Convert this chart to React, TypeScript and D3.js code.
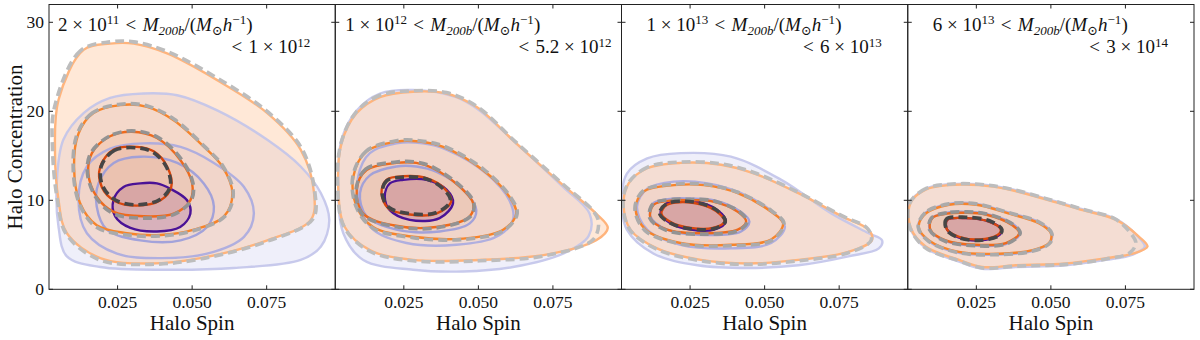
import React from "react";
import * as d3 from "d3";

type Pt = [number, number];

// mass bins (label text)
const lowMant = ["2", "1", "1", "6"];
const lowExp = ["11", "12", "13", "13"];
const highMant = ["1", "5.2", "6", "3"];
const highExp = ["12", "12", "13", "14"];

const xTicks = [0.025, 0.05, 0.075];
const yTicks = [0, 10, 20, 30];

// ---- panel 1 contours (levels outer -> inner), [spin, concentration]
const blueP1: Pt[][] = [
  [[0.0337, 22.0], [0.0225, 21.5], [0.0136, 19.8], [0.0068, 16.8], [0.0046, 11.9], [0.0052, 7.0], [0.008, 3.7], [0.0192, 2.5], [0.0416, 2.2], [0.064, 2.4], [0.0864, 3.3], [0.0932, 4.8], [0.096, 7.8], [0.0932, 10.8], [0.0864, 13.8], [0.0752, 16.8], [0.0584, 20.1], [0.045, 21.8]],
  [[0.0337, 16.4], [0.0225, 15.8], [0.0147, 13.8], [0.0119, 10.0], [0.0147, 6.3], [0.0248, 4.0], [0.0394, 3.5], [0.055, 4.0], [0.0674, 5.9], [0.0707, 8.5], [0.0674, 11.5], [0.0573, 14.2], [0.0461, 16.0]],
  [[0.0326, 14.9], [0.0237, 14.2], [0.0186, 11.9], [0.018, 9.3], [0.0214, 6.7], [0.0326, 5.5], [0.0461, 5.5], [0.055, 7.0], [0.0573, 9.3], [0.0539, 11.9], [0.045, 14.2]],
  [[0.0326, 11.9], [0.027, 11.5], [0.0236, 10.0], [0.0242, 8.2], [0.0293, 6.9], [0.0382, 6.5], [0.046, 7.0], [0.0494, 8.5], [0.0483, 10.0], [0.0427, 11.3], [0.0382, 11.9]],
];
const orangeP1: Pt[][] = [
  [[0.0225, 27.6], [0.0136, 26.9], [0.0052, 21.3], [0.004, 15.7], [0.0052, 10.0], [0.008, 6.3], [0.0192, 3.5], [0.036, 2.9], [0.0528, 3.5], [0.0752, 5.5], [0.0898, 7.8], [0.0909, 10.8], [0.0864, 15.7], [0.0752, 19.8], [0.0584, 23.5], [0.0416, 26.5], [0.0304, 27.6]],
  [[0.0259, 20.7], [0.0169, 19.8], [0.0119, 17.5], [0.0104, 13.8], [0.0124, 9.7], [0.018, 7.2], [0.0281, 6.3], [0.0394, 6.1], [0.0506, 6.7], [0.0607, 8.2], [0.0635, 10.8], [0.0601, 13.8], [0.054, 16.0], [0.0438, 19.0], [0.0349, 20.5]],
  [[0.0298, 17.7], [0.0225, 17.2], [0.0164, 15.3], [0.0152, 13.0], [0.018, 10.4], [0.0237, 8.7], [0.0337, 8.2], [0.0438, 8.5], [0.0494, 10.0], [0.05, 11.9], [0.0461, 14.5], [0.0382, 17.0]],
  [[0.0315, 16.0], [0.0237, 15.7], [0.0192, 13.8], [0.0197, 11.5], [0.0242, 9.9], [0.0315, 9.4], [0.0394, 10.0], [0.043, 11.5], [0.0416, 13.8], [0.0371, 15.5]],
];
const grayP1: Pt[][] = [
  [[0.0225, 27.8], [0.0125, 26.8], [0.0038, 20.4], [0.0032, 15.7], [0.0047, 10.3], [0.0078, 6.2], [0.019, 3.3], [0.036, 2.8], [0.0528, 3.4], [0.0752, 5.4], [0.0905, 7.9], [0.0912, 10.8], [0.0868, 15.8], [0.0755, 19.9], [0.0586, 23.7], [0.0418, 26.7], [0.0304, 27.8]],
  [[0.0259, 20.8], [0.0165, 19.8], [0.0115, 17.5], [0.0101, 13.8], [0.0121, 9.7], [0.0178, 7.0], [0.0281, 6.1], [0.0394, 6.0], [0.0506, 6.6], [0.061, 8.2], [0.0638, 10.8], [0.0604, 13.8], [0.0543, 16.0], [0.044, 19.1], [0.035, 20.6]],
  [[0.0298, 17.8], [0.0222, 17.2], [0.016, 15.3], [0.0149, 13.0], [0.0178, 10.3], [0.0236, 8.5], [0.0337, 8.0], [0.0438, 8.4], [0.0497, 10.0], [0.0503, 11.9], [0.0464, 14.6], [0.0384, 17.1]],
  [[0.0315, 15.9], [0.0239, 15.6], [0.0195, 13.8], [0.02, 11.6], [0.0244, 10.0], [0.0315, 9.5], [0.0392, 10.1], [0.0427, 11.6], [0.0413, 13.8], [0.0369, 15.4]],
];

// ---- panel 2
const blueP2: Pt[][] = [
  [[0.0281, 22.4], [0.017, 22.0], [0.0092, 20.1], [0.0041, 16.8], [0.003, 11.9], [0.0047, 6.3], [0.0114, 3.3], [0.0281, 2.2], [0.0449, 2.0], [0.0616, 2.5], [0.0784, 4.0], [0.087, 6.0], [0.0873, 8.5], [0.0784, 11.5], [0.0627, 16.4], [0.0504, 20.1], [0.0426, 21.6]],
  [[0.0225, 16.4], [0.0136, 15.3], [0.0097, 12.7], [0.0103, 9.3], [0.0147, 6.7], [0.0259, 5.2], [0.0426, 5.0], [0.056, 5.9], [0.0616, 7.8], [0.0604, 10.0], [0.0527, 13.0], [0.0393, 15.7], [0.0314, 16.4]],
  [[0.0225, 13.8], [0.0136, 12.8], [0.0103, 10.8], [0.0125, 8.2], [0.0225, 6.7], [0.037, 6.5], [0.0471, 7.4], [0.0493, 8.9], [0.0449, 11.2], [0.036, 13.2], [0.0292, 13.8]],
  [[0.0248, 12.3], [0.0203, 11.9], [0.0186, 10.4], [0.0203, 8.9], [0.027, 7.8], [0.037, 8.0], [0.0415, 9.7], [0.0393, 11.2], [0.0326, 12.3]],
];
const orangeP2: Pt[][] = [
  [[0.0281, 22.2], [0.017, 21.6], [0.0092, 19.8], [0.0041, 16.4], [0.003, 11.5], [0.0052, 7.0], [0.0136, 4.4], [0.0281, 3.3], [0.0504, 3.3], [0.0728, 3.9], [0.0895, 5.5], [0.0934, 6.9], [0.0895, 8.5], [0.0784, 11.7], [0.0627, 16.4], [0.0493, 20.5], [0.0393, 22.0]],
  [[0.0225, 16.6], [0.0125, 15.5], [0.0081, 12.7], [0.0092, 9.3], [0.0147, 7.0], [0.0281, 5.9], [0.0449, 5.7], [0.0583, 6.7], [0.0627, 8.5], [0.0604, 10.4], [0.0515, 13.4], [0.0382, 16.0], [0.0303, 16.6]],
  [[0.0225, 14.2], [0.0125, 13.4], [0.0092, 11.2], [0.0114, 8.5], [0.0214, 7.2], [0.0359, 7.0], [0.0471, 8.2], [0.0482, 9.7], [0.0438, 11.5], [0.0348, 13.6], [0.0292, 14.2]],
  [[0.0248, 12.7], [0.0192, 12.3], [0.0175, 10.8], [0.0198, 9.1], [0.027, 8.4], [0.0359, 8.5], [0.0409, 9.9], [0.0387, 11.3], [0.0326, 12.5]],
];
const grayP2: Pt[][] = [
  [[0.0281, 22.3], [0.017, 21.8], [0.009, 19.9], [0.0039, 16.4], [0.0028, 11.5], [0.005, 7.0], [0.0134, 4.3], [0.0281, 3.2], [0.0504, 3.2], [0.0728, 3.8], [0.0885, 5.6], [0.0903, 7.6], [0.0885, 8.8], [0.0784, 11.8], [0.0627, 16.5], [0.0493, 20.6], [0.0393, 22.1]],
  [[0.0225, 16.7], [0.0123, 15.5], [0.0079, 12.7], [0.009, 9.3], [0.0145, 6.9], [0.0281, 5.8], [0.0449, 5.6], [0.0585, 6.6], [0.063, 8.5], [0.0607, 10.4], [0.0517, 13.5], [0.0383, 16.1], [0.0303, 16.7]],
  [[0.0225, 14.3], [0.0122, 13.5], [0.009, 11.2], [0.0112, 8.4], [0.0214, 7.1], [0.0359, 6.9], [0.0474, 8.2], [0.0485, 9.7], [0.044, 11.6], [0.0349, 13.7], [0.0292, 14.3]],
  [[0.0248, 12.6], [0.0193, 12.2], [0.0177, 10.8], [0.02, 9.2], [0.027, 8.5], [0.0357, 8.6], [0.0406, 9.9], [0.0385, 11.2], [0.0326, 12.4]],
];

// ---- panel 3
const blueP3: Pt[][] = [
  [[0.0218, 15.3], [0.0106, 14.7], [0.0038, 13.0], [0.0021, 10.0], [0.0038, 6.7], [0.0128, 4.0], [0.0275, 2.7], [0.0444, 2.4], [0.0613, 2.7], [0.0781, 3.7], [0.0883, 4.6], [0.0894, 5.5], [0.0849, 6.3], [0.0725, 8.5], [0.0556, 12.3], [0.0387, 14.9]],
  [[0.0196, 12.1], [0.0106, 11.3], [0.0072, 9.3], [0.0106, 6.7], [0.0218, 5.0], [0.0387, 4.6], [0.0522, 5.2], [0.0568, 7.0], [0.0534, 8.5], [0.0421, 10.8], [0.0309, 11.9]],
  [[0.0196, 10.2], [0.0128, 9.7], [0.0117, 8.2], [0.0173, 6.7], [0.0297, 6.1], [0.0421, 6.5], [0.0449, 7.6], [0.0421, 8.7], [0.0331, 10.0], [0.025, 10.2]],
  [[0.0173, 9.7], [0.0151, 8.5], [0.0185, 7.4], [0.0252, 6.7], [0.0331, 6.7], [0.037, 7.6], [0.0342, 8.9], [0.0263, 9.9]],
];
const orangeP3: Pt[][] = [
  [[0.0218, 14.2], [0.0106, 13.6], [0.0044, 11.9], [0.0027, 9.7], [0.005, 6.7], [0.0139, 4.6], [0.0286, 3.3], [0.0444, 2.9], [0.0613, 3.3], [0.0781, 4.2], [0.086, 5.5], [0.0849, 6.7], [0.0759, 8.2], [0.0613, 10.8], [0.0466, 13.0], [0.0354, 14.0]],
  [[0.0196, 11.7], [0.0095, 11.0], [0.0067, 9.1], [0.0101, 6.7], [0.0218, 5.2], [0.0387, 5.0], [0.0522, 5.6], [0.0562, 7.4], [0.0522, 8.7], [0.041, 10.8], [0.0297, 11.7]],
  [[0.0196, 10.0], [0.0128, 9.5], [0.0117, 8.0], [0.0173, 6.7], [0.0297, 6.3], [0.041, 6.7], [0.0438, 7.6], [0.041, 8.7], [0.032, 9.9], [0.025, 10.0]],
  [[0.0173, 9.5], [0.0154, 8.5], [0.0188, 7.5], [0.0252, 6.9], [0.0326, 6.9], [0.0365, 7.6], [0.0337, 8.8], [0.0263, 9.7]],
];
const grayP3: Pt[][] = [
  [[0.0218, 14.3], [0.0106, 13.7], [0.0042, 11.9], [0.0025, 9.7], [0.0048, 6.7], [0.0139, 4.5], [0.0286, 3.2], [0.0444, 2.8], [0.0613, 3.2], [0.0781, 4.1], [0.0857, 5.5], [0.0846, 6.8], [0.0757, 8.3], [0.0612, 10.9], [0.0466, 13.1], [0.0354, 14.1]],
  [[0.0196, 11.8], [0.0094, 11.1], [0.0065, 9.1], [0.0099, 6.6], [0.0218, 5.1], [0.0387, 4.9], [0.0524, 5.5], [0.0565, 7.4], [0.0524, 8.8], [0.041, 10.9], [0.0297, 11.8]],
  [[0.0196, 10.1], [0.0126, 9.6], [0.0115, 8.0], [0.0172, 6.6], [0.0297, 6.2], [0.0412, 6.6], [0.0441, 7.6], [0.0412, 8.8], [0.032, 10.0], [0.025, 10.1]],
  [[0.0171, 9.6], [0.0148, 8.5], [0.0186, 7.4], [0.0252, 6.8], [0.0328, 6.8], [0.0368, 7.6], [0.0339, 8.9], [0.0263, 9.8]],
];

// ---- panel 4
const blueP4: Pt[][] = [
  [[0.0158, 11.8], [0.008, 11.3], [0.0027, 9.7], [0.0027, 7.0], [0.0078, 4.7], [0.0192, 3.1], [0.027, 2.3], [0.0382, 2.5], [0.055, 2.7], [0.0685, 3.3], [0.0775, 3.9], [0.0815, 4.8], [0.079, 6.0], [0.0719, 7.9], [0.0606, 9.0], [0.0494, 10.1], [0.036, 11.3], [0.0259, 11.8]],
  [[0.0158, 9.6], [0.0079, 8.6], [0.0055, 7.0], [0.009, 5.4], [0.0192, 4.1], [0.0326, 3.9], [0.0438, 4.3], [0.0496, 5.2], [0.0503, 6.3], [0.0463, 7.5], [0.036, 8.6], [0.025, 9.6]],
  [[0.0214, 8.7], [0.0152, 8.6], [0.01, 8.0], [0.0094, 6.7], [0.0146, 5.4], [0.0248, 4.9], [0.0351, 5.1], [0.0397, 6.3], [0.0374, 7.3], [0.0281, 8.5]],
  [[0.0214, 8.0], [0.0152, 7.8], [0.0152, 6.7], [0.0192, 5.8], [0.0259, 5.5], [0.0323, 6.0], [0.0335, 6.7], [0.0293, 7.6]],
];
const orangeP4: Pt[][] = [
  [[0.0158, 11.7], [0.008, 11.2], [0.0029, 9.7], [0.0029, 7.0], [0.008, 4.8], [0.0192, 3.3], [0.027, 2.5], [0.0382, 2.7], [0.055, 2.9], [0.0685, 3.5], [0.0775, 4.0], [0.0824, 4.8], [0.0796, 5.9], [0.0719, 7.8], [0.0606, 8.9], [0.0494, 10.0], [0.036, 11.2], [0.0259, 11.7]],
  [[0.0158, 9.5], [0.008, 8.5], [0.0057, 7.0], [0.0091, 5.5], [0.0192, 4.2], [0.0326, 4.0], [0.0438, 4.4], [0.0494, 5.2], [0.05, 6.3], [0.0461, 7.4], [0.036, 8.5], [0.025, 9.5]],
  [[0.0214, 8.6], [0.0152, 8.5], [0.0102, 8.0], [0.0096, 6.7], [0.0147, 5.5], [0.0248, 5.0], [0.0349, 5.2], [0.0394, 6.3], [0.0371, 7.2], [0.0281, 8.4]],
  [[0.0214, 8.0], [0.0152, 7.8], [0.0152, 6.7], [0.0192, 5.9], [0.0259, 5.6], [0.0321, 6.1], [0.0332, 6.7], [0.0293, 7.6]],
];
const grayP4: Pt[][] = [
  [[0.0158, 11.8], [0.008, 11.3], [0.0027, 9.7], [0.0027, 7.0], [0.0078, 4.7], [0.0192, 3.2], [0.027, 2.4], [0.0382, 2.6], [0.055, 2.8], [0.0685, 3.4], [0.0765, 4.1], [0.0785, 5.2], [0.077, 6.2], [0.0716, 7.9], [0.0606, 9.0], [0.0494, 10.1], [0.036, 11.3], [0.0259, 11.8]],
  [[0.0158, 9.6], [0.0078, 8.6], [0.0055, 7.0], [0.009, 5.4], [0.0192, 4.1], [0.0326, 3.9], [0.044, 4.3], [0.0497, 5.2], [0.0503, 6.3], [0.0463, 7.5], [0.036, 8.6], [0.025, 9.6]],
  [[0.0214, 8.7], [0.0151, 8.6], [0.0099, 8.0], [0.0093, 6.7], [0.0146, 5.4], [0.0248, 4.9], [0.0351, 5.1], [0.0397, 6.3], [0.0373, 7.3], [0.0281, 8.5]],
  [[0.0214, 8.1], [0.015, 7.9], [0.015, 6.7], [0.0191, 5.8], [0.0259, 5.5], [0.0324, 6.0], [0.0336, 6.7], [0.0294, 7.7]],
];

const blueSets = [blueP1, blueP2, blueP3, blueP4];
const orangeSets = [orangeP1, orangeP2, orangeP3, orangeP4];
const graySets = [grayP1, grayP2, grayP3, grayP4];

// styles
const blueStroke = ["#c2c4ea", "#a8aae0", "#9a9cda", "#4a1296"];
const blueFill = ["#8086d6", "#8086d6", "#8086d6", "#5a1aa0"];
const blueAlpha = [0.13, 0.03, 0.04, 0.24];
const orangeStroke = ["#ffb47c", "#f7842a", "#ee6a1c", "#d8460c"];
const orangeAlpha = [0.3, 0.05, 0.09, 0.05];
const grayStroke = ["#bdbdbd", "#ababab", "#939393", "#464646"];
const font = "Liberation Serif, DejaVu Serif, serif";
const spX = "\u2005"; // around ×
const spLt = "\u2004"; // around <

const W = 1200;
const H = 340;
const left = 49;
const pw = 286.25;
const top = 4.5;
const bottom = 289.3;
const labelLeft = [9, 10, 25, 25];
const labelRight = [25, 10, 26, 26];

function MassLabel({ i, x0, x1 }: { i: number; x0: number; x1: number }) {
  const s = 13;
  return (
    <g fontFamily={font} fontSize={19} fill="#111">
      <text x={x0} y={31}>
        <tspan>{lowMant[i] + spX + "×" + spX + "10"}</tspan>
        <tspan dy={-7} fontSize={s}>{lowExp[i]}</tspan>
        <tspan dy={7}>{spLt + "<" + spLt}</tspan>
        <tspan fontStyle="italic">M</tspan>
        <tspan dy={4} fontSize={s} fontStyle="italic">200b</tspan>
        <tspan dy={-4}>/(</tspan>
        <tspan fontStyle="italic">M</tspan>
        <tspan dy={4} fontSize={s}>⊙</tspan>
        <tspan dy={-4} fontStyle="italic">h</tspan>
        <tspan dy={-7} fontSize={s}>−1</tspan>
        <tspan dy={7}>)</tspan>
      </text>
      <text x={x1} y={53} textAnchor="end">
        <tspan>{"<" + spLt + highMant[i] + spX + "×" + spX + "10"}</tspan>
        <tspan dy={-6} fontSize={s}>{highExp[i]}</tspan>
      </text>
    </g>
  );
}

function Panel({ i }: { i: number }) {
  const x0 = left + i * pw;
  const x = d3.scaleLinear().domain([0.002, 0.098]).range([x0, x0 + pw]);
  const y = d3.scaleLinear().domain([0, 32]).range([bottom, top]);
  const line = d3
    .line<Pt>()
    .x((d) => x(d[0]))
    .y((d) => y(d[1]))
    .curve(d3.curveCatmullRomClosed.alpha(0.5));
  const fmt = d3.format(".3f");
  const clipId = `clip${i}`;

  return (
    <g>
      <defs>
        <clipPath id={clipId}>
          <rect x={x0} y={top} width={pw} height={bottom - top} />
        </clipPath>
      </defs>
      <g clipPath={`url(#${clipId})`}>
        {blueSets[i].map((c, k) => (
          <path key={"bf" + k} d={line(c) || ""} fill={blueFill[k]} fillOpacity={blueAlpha[k]} stroke="none" />
        ))}
        {orangeSets[i].map((c, k) => (
          <path key={"of" + k} d={line(c) || ""} fill={orangeStroke[k]} fillOpacity={orangeAlpha[k]} stroke="none" />
        ))}
        {blueSets[i].map((c, k) => (
          <path key={"bs" + k} d={line(c) || ""} fill="none"
            stroke={blueStroke[k]} strokeOpacity={k === 3 ? 1 : 0.9} strokeWidth={2.4} />
        ))}
        {orangeSets[i].map((c, k) => (
          <path key={"os" + k} d={line(c) || ""} fill="none" stroke={orangeStroke[k]} strokeWidth={2.4} />
        ))}
        {graySets[i].map((c, k) => (
          <path key={"g" + k} d={line(c) || ""} fill="none"
            stroke={grayStroke[k]} strokeWidth={3.6} strokeDasharray="9 5" />
        ))}
      </g>
      <rect x={x0} y={top} width={pw} height={bottom - top} fill="none" stroke="#222" strokeWidth={1} />
      {xTicks.map((t) => (
        <g key={"xt" + t}>
          <line x1={x(t)} x2={x(t)} y1={bottom} y2={bottom - 4} stroke="#222" />
          <line x1={x(t)} x2={x(t)} y1={top} y2={top + 4} stroke="#222" />
          <text x={x(t)} y={308} textAnchor="middle" fontFamily={font} fontSize={17.5} fill="#111">
            {fmt(t)}
          </text>
        </g>
      ))}
      {yTicks.map((t) => (
        <g key={"yt" + t}>
          <line x1={x0} x2={x0 + 4} y1={y(t)} y2={y(t)} stroke="#222" />
          <line x1={x0 + pw} x2={x0 + pw - 4} y1={y(t)} y2={y(t)} stroke="#222" />
          {i === 0 && (
            <text x={x0 - 5} y={y(t) + 5.5} textAnchor="end" fontFamily={font} fontSize={17.5} fill="#111">
              {t}
            </text>
          )}
        </g>
      ))}
      <text x={x0 + pw / 2} y={330} textAnchor="middle" fontFamily={font} fontSize={21} fill="#111">
        Halo Spin
      </text>
      <MassLabel i={i} x0={x0 + labelLeft[i]} x1={x0 + pw - labelRight[i]} />
    </g>
  );
}

export default function App() {
  return (
    <svg width={W} height={H} style={{ position: "absolute", left: 0, top: 0, background: "#fff" }}>
      {[0, 1, 2, 3].map((i) => (
        <Panel key={i} i={i} />
      ))}
      <text transform={`translate(21.5,${(top + bottom) / 2}) rotate(-90)`} textAnchor="middle"
        fontFamily={font} fontSize={21} fill="#111">
        Halo Concentration
      </text>
    </svg>
  );
}
